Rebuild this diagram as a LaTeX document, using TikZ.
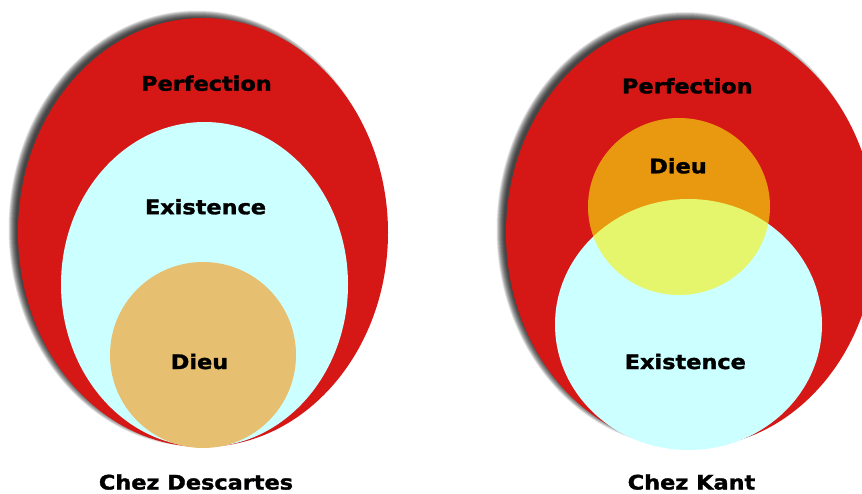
\documentclass[tikz,border=0pt]{standalone}
\usepackage{graphicx}
\usepackage{fontspec}
\setmainfont{DejaVu Sans}[BoldFeatures={FakeBold=1.5}]
\definecolor{perfred}{RGB}{213,23,21}
\definecolor{existcyan}{RGB}{204,255,255}
\definecolor{dieusand}{RGB}{230,192,112}
\definecolor{dieuyellow}{RGB}{247,240,12}
\newcommand{\setlbl}[1]{\scalebox{1.12}[1]{\bfseries #1}}
\tikzset{
  lbl/.style={anchor=base, inner sep=0pt, font=\fontsize{20}{24}\selectfont},
  shadowlayer/.style={fill=black, fill opacity=0.08, draw=none},
}
% soft drop shadow of an ellipse: centre, x radius, y radius
\newcommand{\blurshadow}[3]{%
  \foreach \k in {0,...,15}{%
    \fill[shadowlayer] #1 ellipse [x radius={#2-4+0.5*\k}, y radius={#3-4+0.5*\k}];
  }%
}
\begin{document}
\begin{tikzpicture}[x=1pt, y=-1pt]
  \useasboundingbox (0,0) rectangle (862,493);
  \clip (0,0) rectangle (862,493);

  % ---- Descartes ----
  \blurshadow{(197,228.5)}{185}{214.5}
  \fill[perfred] (203,232.5) ellipse [x radius=185, y radius=214.5];
  \fill[existcyan] (204.5,284.5) ellipse [x radius=143.5, y radius=162.5];
  \fill[dieusand] (203,355) circle [radius=93];
  \node[lbl] (perfD) at (206.5,90.7) {\setlbl{Perfection}};
  \node[lbl] (existD) at (205.5,214.2) {\setlbl{Existence}};
  \node[lbl] (dieuD) at (199.5,369) {\setlbl{Dieu}};
  \node[lbl] (capD) at (196,489.5) {\setlbl{Chez Descartes}};

  % ---- Kant ----
  \blurshadow{(685,229.5)}{185}{214}
  \fill[perfred] (691,233.5) ellipse [x radius=185, y radius=214];
  \fill[existcyan] (688.5,324.5) ellipse [x radius=133.5, y radius=125.5];
  \fill[dieuyellow, fill opacity=0.6] (679,206.5) ellipse [x radius=91, y radius=88.5];
  \node[lbl] (perfK) at (687.3,93.3) {\setlbl{Perfection}};
  \node[lbl] (dieuK) at (678,173.3) {\setlbl{Dieu}};
  \node[lbl] (existK) at (685.3,369) {\setlbl{Existence}};
  \node[lbl] (capK) at (691.5,489.5) {\setlbl{Chez Kant}};
\end{tikzpicture}
\end{document}
